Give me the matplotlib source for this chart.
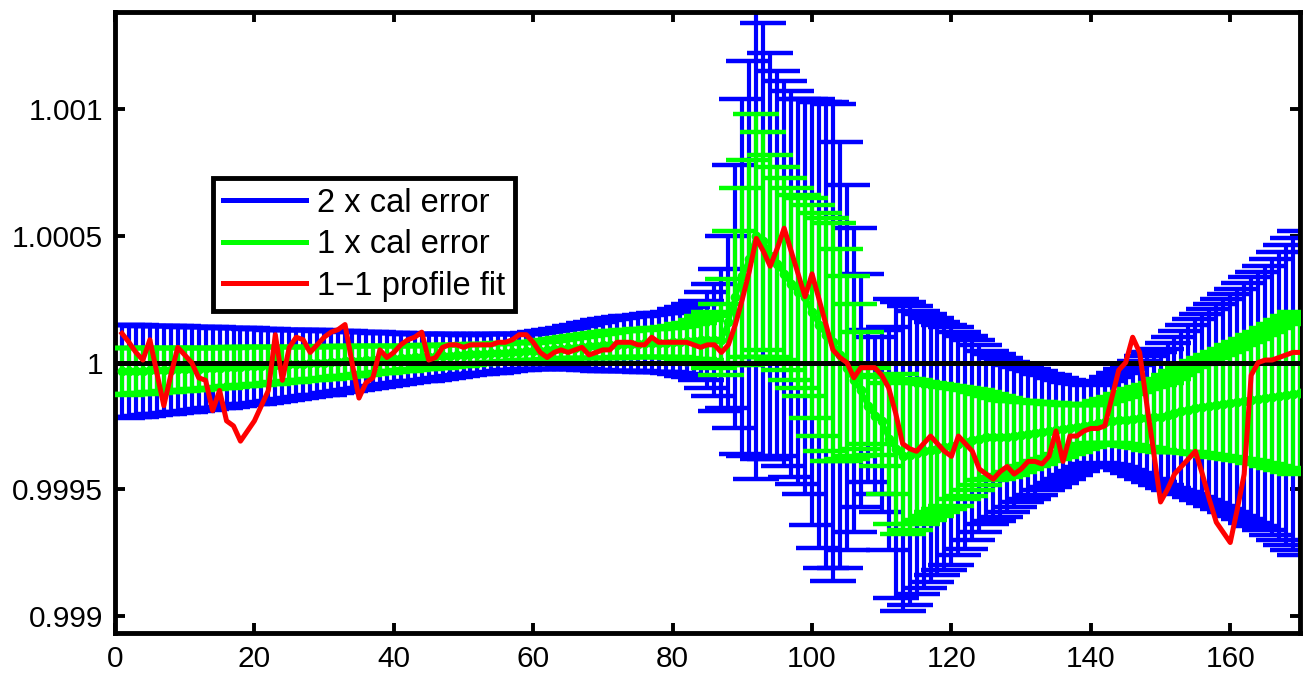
import numpy as np
import matplotlib
matplotlib.use('Agg')
import matplotlib.pyplot as plt
from matplotlib.lines import Line2D

plt.rcParams['font.family'] = ['Liberation Sans', 'DejaVu Sans']

# channel index
x = np.arange(1, 171)

# centre of the calibration band, (value - 1) in units of 1e-5
centre_dev = [
    -3.5, -3.4, -3.3, -3.2, -3.1, -3.0, -2.9, -2.8, -2.7, -2.6,
    -2.5, -2.4, -2.2, -2.1, -2.0, -1.9, -1.7, -1.6, -1.5, -1.4,
    -1.2, -1.1, -1.0, -0.8, -0.7, -0.5, -0.4, -0.2, -0.1, 0.0,
    0.2, 0.3, 0.5, 0.6, 0.8, 0.9, 1.1, 1.2, 1.4, 1.5,
    1.7, 1.8, 2.0, 2.1, 2.3, 2.4, 2.6, 2.7, 2.9, 3.0,
    3.2, 3.3, 3.5, 3.6, 3.8, 3.9, 4.1, 4.2, 4.4, 4.5,
    4.7, 4.9, 5.2, 5.4, 5.7, 5.9, 6.2, 6.4, 6.6, 6.8,
    7.0, 7.1, 7.3, 7.4, 7.5, 7.6, 7.7, 7.8, 7.9, 8.0,
    8.2, 8.4, 8.6, 8.8, 9.0, 9.0, 9.0, 16, 26, 34,
    41, 50, 48, 42, 39, 35, 31, 28, 26, 20,
    15, 11, 8, 3, -2, -7, -11, -17, -21, -23,
    -30, -34, -37, -36.5, -35.5, -35, -34.5, -34, -33.5, -33,
    -32, -31.5, -30.5, -30, -29.5, -29.5, -29.5, -29.5, -29, -28.5,
    -28.2, -27.8, -27.4, -27, -26.7, -26.3, -25.9, -25.5, -25, -24.5,
    -24, -23.5, -23, -22.8, -22.5, -22.3, -22, -21.8, -21.6, -21.5,
    -20.8, -20, -19.3, -18.6, -18, -17.6, -17.2, -16.8, -16.4, -16,
    -15.6, -15.2, -14.8, -14.4, -14, -13.6, -13.2, -12.8, -12.4, -12,
]

# 1 x calibration error, units of 1e-5
cal_err = [
    9.2, 9.1, 9.0, 8.9, 8.8, 8.7, 8.7, 8.6, 8.5, 8.4,
    8.3, 8.2, 8.1, 8.0, 7.9, 7.8, 7.7, 7.6, 7.5, 7.4,
    7.3, 7.2, 7.0, 6.9, 6.8, 6.7, 6.6, 6.5, 6.4, 6.3,
    6.2, 6.0, 5.9, 5.8, 5.7, 5.5, 5.4, 5.3, 5.1, 5.0,
    4.9, 4.8, 4.7, 4.6, 4.5, 4.4, 4.3, 4.2, 4.1, 4.0,
    3.9, 3.9, 3.8, 3.8, 3.7, 3.7, 3.6, 3.6, 3.5, 3.5,
    3.6, 3.7, 3.8, 3.9, 4.0, 4.2, 4.4, 4.6, 4.8, 5.0,
    5.1, 5.2, 5.3, 5.4, 5.5, 5.6, 5.7, 5.8, 5.9, 6.0,
    6.4, 6.8, 7.2, 7.8, 9.5, 11.0, 14.0, 17, 26, 35,
    39, 48, 43, 40, 38, 38, 38, 38, 39, 42,
    44, 46, 47, 42, 36, 30, 23, 15, 15.5, 18,
    22, 29.5, 30.5, 29.5, 28, 27, 26, 25, 24.2, 23.5,
    22, 21, 19.8, 18.5, 17, 16.5, 15.7, 14.8, 14, 13.3,
    12.8, 12.2, 11.5, 11, 10.4, 9.8, 9.2, 8.7, 8.2, 7.8,
    7.8, 8.2, 8.7, 9.3, 10, 10.7, 11.4, 12.1, 12.8, 13.5,
    14.3, 15.1, 15.9, 16.7, 17.5, 18.3, 19.1, 19.9, 20.7, 21.5,
    22.4, 23.3, 24.2, 25.1, 26, 27.2, 28.4, 29.6, 30.8, 32,
]

# 1-1 profile fit, (value - 1) in units of 1e-5
fit_dev = [
    11.5, 8, 4, 1, 9, -4, -17, -5, 6, 3,
    0, -6, -7, -19, -11, -23, -25, -31, -27, -23,
    -17, -11, 11, -7, 6, 10, 9, 4, 7, 10,
    12, 13, 15, 0, -14, -8, -6, 5, 2, 4,
    7, 9, 10, 12, 1, 2, 6, 7, 7, 6,
    7, 7, 7, 7, 8, 8, 9, 11, 11, 8,
    4, 2, 4, 5, 4, 5, 6, 3, 4, 5,
    5, 8, 8, 8, 7, 7, 10, 8, 8, 8,
    8, 8, 7, 6, 7, 7, 4, 7, 15, 25,
    36, 49, 44, 38, 45, 53, 44, 35, 26, 35,
    25, 15, 5, 2, 0, -6, -2, -2, -2, -5,
    -10, -20, -32, -34, -35, -32, -29, -32, -35, -37,
    -29, -32, -35, -42, -44, -46, -43, -41, -44, -42,
    -39, -39, -40, -37, -27, -39, -29, -29, -27, -26,
    -26, -25, -14, -3, 0, 10, 4, -16, -35, -55,
    -50, -44, -41, -38, -35, -44, -54, -63, -67, -71,
    -58, -44, -5, 0, 1, 1, 2, 3, 4, 4,
]

centre = 1 + np.array(centre_dev) * 1e-5
err = np.array(cal_err) * 1e-5
fit = 1 + np.array(fit_dev) * 1e-5

yticks = [0.999, 0.9995, 1, 1.0005, 1.001]
ytick_labels = ['0.999', '0.9995', '1', '1.0005', '1.001']
xticks = [0, 20, 40, 60, 80, 100, 120, 140, 160]

fig = plt.figure(figsize=(13.07, 6.76), dpi=100)
ax = fig.add_axes([0.088, 0.0636, 0.9066, 0.9186])

ax.errorbar(x, centre, yerr=2 * err, color=(0, 0, 1), lw=3, elinewidth=3,
            capsize=16.5, capthick=3.2, zorder=2)
ax.errorbar(x, centre, yerr=err, color=(0, 1, 0), lw=3.5, elinewidth=3,
            capsize=16.5, capthick=3.2, marker='o', ms=6, zorder=3)
ax.axhline(1, color='black', lw=3.6, zorder=4)
ax.plot(x, fit, color=(1, 0, 0), lw=3.6, zorder=5)

ax.set_xlim(0, 170)
ax.set_ylim(0.998933, 1.001383)
ax.set_xticks(xticks)
ax.set_yticks(yticks)
ax.set_yticklabels(ytick_labels)
ax.tick_params(direction='in', length=7, width=2.8, labelsize=21.5, pad=8.5,
               top=True, right=True)
for sp in ax.spines.values():
    sp.set_linewidth(3.5)

handles = [Line2D([], [], color=(0, 0, 1), lw=3.6),
           Line2D([], [], color=(0, 1, 0), lw=3.6),
           Line2D([], [], color=(1, 0, 0), lw=3.6)]
labels = ['2 x cal error', '1 x cal error', '1\u22121 profile fit']
leg = ax.legend(handles, labels, loc='upper left', bbox_to_anchor=(0.0827, 0.7327),
                borderaxespad=0, fontsize=23.5, fancybox=False, framealpha=1,
                edgecolor='black', borderpad=0.3, handlelength=2.55,
                handletextpad=0.35, labelspacing=0.32)
leg.get_frame().set_linewidth(3.5)
leg.set_zorder(10)

fig.savefig('out.png', dpi=100)
